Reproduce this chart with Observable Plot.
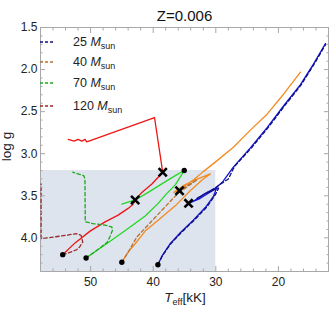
<!DOCTYPE html>
<html><head><meta charset="utf-8">
<script src="https://cdn.jsdelivr.net/npm/d3@7"></script>
<script src="https://cdn.jsdelivr.net/npm/@observablehq/plot@0.6"></script>
<style>
body{margin:0;background:#fff;font-family:"Liberation Sans",Arial,sans-serif;}
#wrap{position:relative;width:332px;height:310px;overflow:hidden;}
.lg{position:absolute;left:40px;height:16px;display:flex;align-items:center;font-size:12.5px;color:#222;white-space:nowrap;}
.lg svg{display:block;}
.lg span.t{margin-left:18px;}
sub{font-size:9px;vertical-align:-3px;line-height:0;}
#ylab{position:absolute;left:-14px;top:139px;width:40px;text-align:center;font-size:13.5px;color:#222;transform:rotate(-90deg);}
#xlab{position:absolute;left:145px;top:290px;width:80px;text-align:center;font-size:13.5px;color:#222;}
</style></head>
<body><div id="wrap"></div>
<script>
// ---- data ----
const masses = ["25", "40", "70", "120"];
// 25 Msun
const t25  = [39.25,38.56,37.28,35.68,33.6,31.68,30.4,29.81,31.68,33.28,34.35,32.48,30.56,28.96,27.2,24.48,21.81,19.15,16.48,14.35,12.48];
const g25  = [4.32,4.21,4.07,3.94,3.79,3.64,3.51,3.40,3.47,3.55,3.59,3.53,3.44,3.34,3.16,2.93,2.69,2.43,2.18,1.93,1.69];
const t25d = [39.25,38.5,37.2,35.55,33.45,31.5,30.1,29.55,31.3,33.0,31.0,29.4,28.0,27.0,24.3,21.65,19.0,16.35,14.25,12.45];
const g25d = [4.32,4.21,4.07,3.94,3.79,3.64,3.49,3.41,3.46,3.53,3.45,3.37,3.30,3.15,2.93,2.69,2.43,2.18,1.93,1.70];
// 40 Msun
const t40  = [45.01,44.0,42.88,41.28,38.88,36.48,34.08,32.16,30.88,33.28,35.2,36.75,35.79,34.72,33.55,31.95,30.08,27.15,24.48,21.81,19.15,16.48];
const g40  = [4.29,4.17,4.07,3.92,3.77,3.62,3.44,3.31,3.24,3.31,3.38,3.46,3.44,3.37,3.31,3.21,3.10,2.92,2.72,2.53,2.29,2.03];
const t40d = [45.01,44.0,42.61,40.48,38.08,35.79,34.4,32.96,34.72,36.0];
const g40d = [4.29,4.17,3.99,3.82,3.63,3.45,3.37,3.31,3.40,3.47];
// 70 Msun
const t70  = [50.72,46.88,43.68,41.28,39.2,37.92,36.48,35.04,36.48,38.88,40.8,42.88,45.01];
const g70  = [4.24,4.04,3.87,3.74,3.59,3.48,3.37,3.20,3.26,3.37,3.46,3.55,3.60];
const t70d = [50.72,48.5,47.3,46.88,46.5,46.61,47.68,49.65,50.85,50.9,51.1,52.85];
const g70d = [4.24,4.12,4.05,3.98,3.91,3.87,3.85,3.83,3.81,3.30,3.26,3.22];
// 120 Msun
const t120  = [54.45,52.48,50.08,47.68,45.6,44.0,43.2,43.44,43.04,42.88,41.81,40.21,39.2,38.48,39.79,50.61,50.88,51.41,52.0,52.64,53.55];
const g120  = [4.20,4.06,3.92,3.81,3.73,3.65,3.60,3.57,3.58,3.55,3.46,3.36,3.28,3.22,2.57,2.86,2.83,2.85,2.83,2.85,2.83];
const t120d = [54.45,53.2,52.2,51.77,51.25,51.52,52.32,53.92,57.85,57.9,57.9];
const g120d = [4.20,4.17,4.14,4.11,4.05,3.97,3.95,3.97,4.01,3.99,3.36];
// markers
const dotT = [54.45,50.72,45.01,39.25,35.04];
const dotG = [4.20,4.24,4.29,4.32,3.20];
const crossT = [42.88,38.48,35.79,34.35];
const crossG = [3.55,3.22,3.44,3.59];
// shaded region
const shadeT = [58, 30];
const shadeG = [3.2, 4.4];
// ticks
const xMajor = [50, 40, 30, 20];
const xMinor = [56,54,52,48,46,44,42,38,36,34,32,28,26,24,22,18,16,14];
const yMajor = [1.5, 2.0, 2.5, 3.0, 3.5, 4.0];
const yMinor = [1.6,1.7,1.8,1.9,2.1,2.2,2.3,2.4,2.6,2.7,2.8,2.9,3.1,3.2,3.3,3.4,3.6,3.7,3.8,3.9,4.1,4.2,4.3];

const solidColors  = ["#1212d8", "#f58a1f", "#22d822", "#ee1515"];
const dashedColors = ["#10107e", "#b8712f", "#1da81d", "#9c2a2a"];

const toRows = (T, G) => T.map((t, i) => ({T: t, g: G[i]}));
const solids  = [[t25,g25],[t40,g40],[t70,g70],[t120,g120]];
const dasheds = [[t25d,g25d],[t40d,g40d],[t70d,g70d],[t120d,g120d]];

const frameColor = "#a8a8a8";
const marks = [
  Plot.rect([{x1: shadeT[0], x2: shadeT[1], y1: shadeG[0], y2: shadeG[1]}], {x1: "x1", x2: "x2", y1: "y1", y2: "y2", fill: "#dee4ee"}),
  Plot.frame({stroke: frameColor}),
];
solids.forEach(([T, G], i) => marks.push(Plot.line(toRows(T, G), {x: "T", y: "g", stroke: solidColors[i], strokeWidth: 1.3, curve: "linear"})));
dasheds.forEach(([T, G], i) => marks.push(Plot.line(toRows(T, G), {x: "T", y: "g", stroke: dashedColors[i], strokeWidth: 1.3, strokeDasharray: "3.5,2.5"})));
marks.push(
  Plot.dot(toRows(dotT, dotG), {x: "T", y: "g", r: 2.7, fill: "black", stroke: "none"}),
  Plot.dot(toRows(crossT, crossG), {x: "T", y: "g", symbol: "times", r: 3.8, stroke: "black", strokeWidth: 2.6}),
  // tick marks, inward, on all four sides
  Plot.axisX(xMajor, {anchor: "bottom", tickSize: -5, fill: "none", stroke: frameColor, label: null}),
  Plot.axisX(xMinor, {anchor: "bottom", tickSize: -2.5, fill: "none", stroke: frameColor, label: null}),
  Plot.axisX(xMajor, {anchor: "top", tickSize: -5, fill: "none", stroke: frameColor, label: null}),
  Plot.axisX(xMinor, {anchor: "top", tickSize: -2.5, fill: "none", stroke: frameColor, label: null}),
  Plot.axisY(yMajor, {anchor: "left", tickSize: -5, fill: "none", stroke: frameColor, label: null}),
  Plot.axisY(yMinor, {anchor: "left", tickSize: -2.5, fill: "none", stroke: frameColor, label: null}),
  Plot.axisY(yMajor, {anchor: "right", tickSize: -5, fill: "none", stroke: frameColor, label: null}),
  Plot.axisY(yMinor, {anchor: "right", tickSize: -2.5, fill: "none", stroke: frameColor, label: null}),
  // tick labels
  Plot.axisX(xMajor, {anchor: "bottom", tickSize: 0, tickPadding: 6, fill: "#222", fontSize: 12, label: null}),
  Plot.axisY(yMajor, {anchor: "left", tickSize: 0, tickPadding: 3, fill: "#222", fontSize: 12, tickFormat: d => d.toFixed(1), label: null}),
  Plot.text(["Z=0.006"], {frameAnchor: "top", dy: -17, fontSize: 15, fill: "#111"})
);

const chart = Plot.plot({
  width: 332, height: 310,
  marginTop: 27, marginBottom: 39, marginLeft: 40, marginRight: 4,
  x: {domain: [58, 12]},
  y: {domain: [1.5, 4.4], reverse: true},
  style: {fontFamily: "'Liberation Sans', Arial, sans-serif", background: "white", overflow: "visible"},
  marks
});
const wrap = document.getElementById("wrap");
wrap.appendChild(chart);

// legend (HTML overlay)
const legendTops = [34, 54, 75, 98];
masses.forEach((m, i) => {
  const d = document.createElement("div");
  d.className = "lg";
  d.style.top = legendTops[i] + "px";
  d.innerHTML = `<svg width="15" height="4"><line x1="0" y1="2" x2="15" y2="2" stroke="${dashedColors[i]}" stroke-width="1.3" stroke-dasharray="3,2"/></svg><span class="t">${m} <i>M</i><sub>sun</sub></span>`;
  wrap.appendChild(d);
});
const yl = document.createElement("div"); yl.id = "ylab"; yl.textContent = "log g"; wrap.appendChild(yl);
const xl = document.createElement("div"); xl.id = "xlab"; xl.innerHTML = "<i>T</i><sub>eff</sub>[kK]"; wrap.appendChild(xl);
</script>
</body></html>
